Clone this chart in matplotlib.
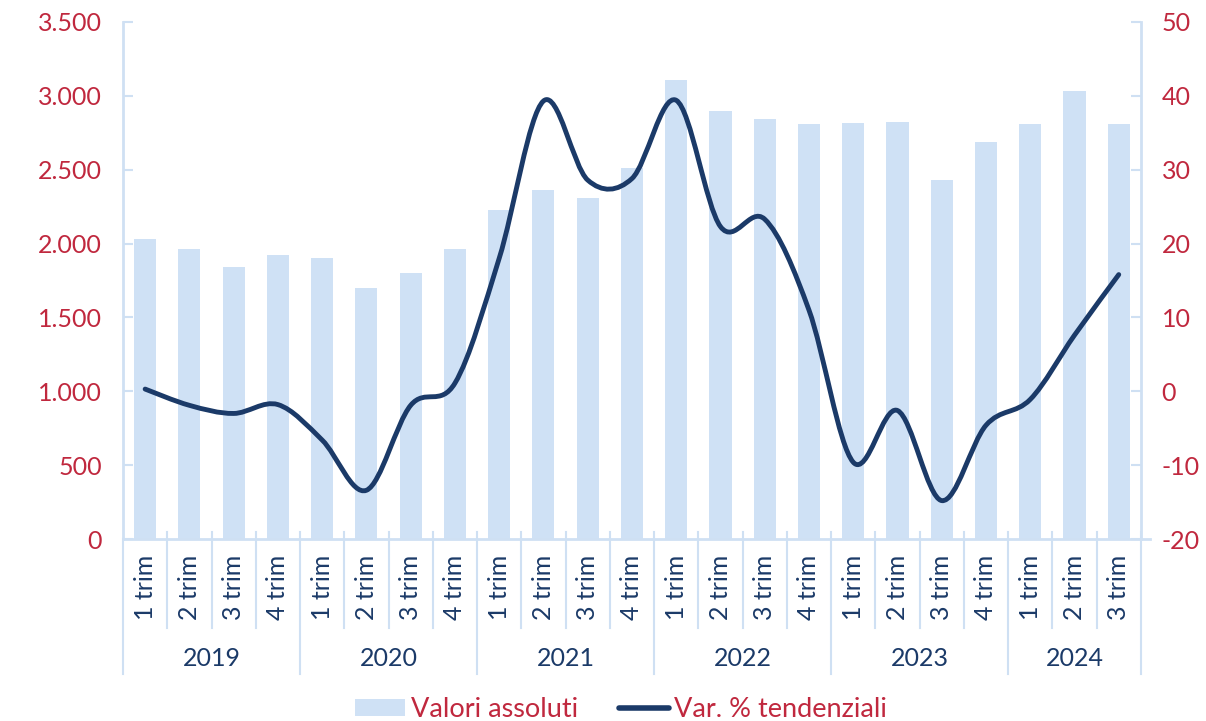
import matplotlib
matplotlib.use("Agg")
import matplotlib.pyplot as plt
from matplotlib.path import Path
from matplotlib.patches import PathPatch, Patch
from matplotlib.lines import Line2D
from matplotlib.ticker import FuncFormatter
import matplotlib.transforms as mtransforms

plt.rcParams['font.family'] = ['Lato', 'DejaVu Sans']
plt.rcParams['axes.unicode_minus'] = False

# dati
anni = ['2019', '2020', '2021', '2022', '2023', '2024']
trimestri = ['1 trim', '2 trim', '3 trim', '4 trim'] * 5 + ['1 trim', '2 trim', '3 trim']
valori = [2030, 1965, 1840, 1920,
          1905, 1700, 1800, 1960,
          2225, 2360, 2310, 2510,
          3105, 2900, 2845, 2810,
          2815, 2820, 2430, 2690,
          2810, 3035, 2810]
var_pct = [0.3, -1.9, -3.0, -1.8,
           -6.6, -13.4, -1.9, 1.1,
           18.0, 39.3, 28.6, 28.8,
           39.4, 22.3, 23.3, 11.0,
           -9.6, -2.6, -14.8, -4.6,
           -1.1, 7.6, 15.8]

col_barre = '#cfe1f5'
col_linea = '#1b3a68'
col_rosso = '#c0283e'
col_assi = '#cfe0f3'

fig = plt.figure(figsize=(12.06, 7.21), dpi=100)
ax = fig.add_axes([0.102, 0.2524, 0.844, 0.7171])
ax2 = ax.twinx()

n = len(valori)
x = list(range(n))
ax.bar(x, valori, width=0.5, color=col_barre, zorder=2)
ax.set_xlim(-0.5, n - 0.5)
ax.set_ylim(0, 3500)
ax.set_yticks(range(0, 3501, 500))
ax.yaxis.set_major_formatter(FuncFormatter(lambda v, p: f'{int(v):,}'.replace(',', '.')))
ax2.set_ylim(-20, 50)
ax2.set_yticks(range(-20, 51, 10))

for a in (ax, ax2):
    for s in a.spines.values():
        s.set_visible(False)
    a.tick_params(axis='y', direction='in', length=7, width=1.5, color=col_assi,
                  labelcolor=col_rosso, labelsize=18, pad=15)
    a.set_xticks([])
ax.spines['left'].set_visible(True)
ax.spines['left'].set_color(col_assi)
ax.spines['left'].set_linewidth(2)
ax2.spines['right'].set_visible(True)
ax2.spines['right'].set_color(col_assi)
ax2.spines['right'].set_linewidth(2)

# linea smussata (stile Excel)
pts = list(zip(x, var_pct))
verts = [pts[0]]
codes = [Path.MOVETO]
for i in range(n - 1):
    p0 = pts[i - 1] if i > 0 else pts[i]
    p1 = pts[i]
    p2 = pts[i + 1]
    p3 = pts[i + 2] if i + 2 < n else pts[i + 1]
    c1 = (p1[0] + (p2[0] - p0[0]) / 6, p1[1] + (p2[1] - p0[1]) / 6)
    c2 = (p2[0] - (p3[0] - p1[0]) / 6, p2[1] - (p3[1] - p1[1]) / 6)
    verts += [c1, c2, p2]
    codes += [Path.CURVE4] * 3
ax2.add_patch(PathPatch(Path(verts, codes), fill=False, edgecolor=col_linea,
                        lw=3.5, capstyle='round', joinstyle='round', zorder=3))

# asse x con categorie a due livelli
tr = mtransforms.blended_transform_factory(ax.transData, ax.transAxes)
ax.plot([-0.5, n - 0.3], [0, 0], transform=tr, color=col_assi, lw=2, clip_on=False, zorder=4)
confini_anni = [-0.5, 3.5, 7.5, 11.5, 15.5, 19.5, n - 0.5]
for b in range(n + 1):
    xb = b - 0.5
    y1 = -0.261 if xb in confini_anni else -0.172
    y0 = 0 if b == 0 else 0.0135
    ax.plot([xb, xb], [y0, y1], transform=tr, color=col_assi, lw=1.5, clip_on=False)
for i, t in enumerate(trimestri):
    ax.text(i, -0.03, t, transform=tr, rotation=90, ha='center', va='top',
            fontsize=18, color=col_linea)
for k, anno in enumerate(anni):
    xc = (confini_anni[k] + confini_anni[k + 1]) / 2
    ax.text(xc, -0.232, anno, transform=tr, ha='center', va='center',
            fontsize=18, color=col_linea)

handles = [Patch(facecolor=col_barre, edgecolor='none'),
           Line2D([0], [0], color=col_linea, lw=4, solid_capstyle='round')]
leg = fig.legend(handles, ['Valori assoluti', 'Var. % tendenziali'], loc='center',
                 bbox_to_anchor=(0.515, 0.016), ncol=2, frameon=False, fontsize=19.5,
                 handlelength=1.85, handleheight=0.55, handletextpad=0.2, columnspacing=1.5)
for t in leg.get_texts():
    t.set_color(col_rosso)

fig.savefig('out.png', dpi=100)
